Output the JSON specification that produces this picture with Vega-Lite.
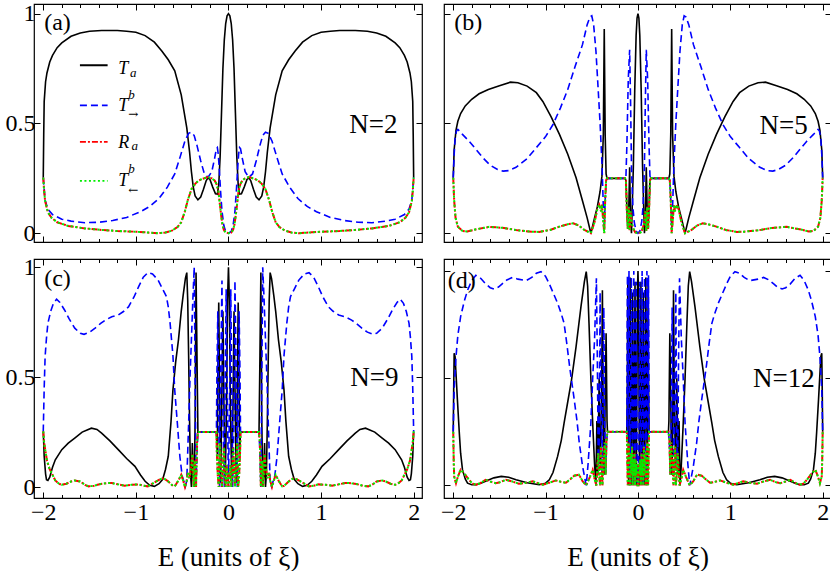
{
"$schema":"https://vega.github.io/schema/vega-lite/v6.json",
"background":"white",
"padding":{"left":4,"top":1,"right":0,"bottom":0},
"config":{"view":{"stroke":"black","strokeWidth":1.2},"font":"Liberation Serif, Times New Roman, DejaVu Serif, serif",
"axis":{"domain":false,"grid":false,"tickColor":"black","tickWidth":1,"labelFont":"Liberation Serif, Times New Roman, DejaVu Serif, serif","labelFontSize":24,"labelColor":"black","labelFlush":false,"labelPadding":5,"titleFont":"Liberation Serif, Times New Roman, DejaVu Serif, serif","titleFontSize":27,"titleFontWeight":"normal","titleColor":"black","titlePadding":20},
"axisX":{"labelPadding":8}},
"spacing":{"row":8,"column":15},
"align":"each",
"columns":2,
"datasets":{"curves":[
{"p":"a","s":"T","E":-2,"v":0.253},{"p":"a","s":"T","E":-1.995,"v":0.45},{"p":"a","s":"T","E":-1.99,"v":0.6},{"p":"a","s":"T","E":-1.975,"v":0.69},{"p":"a","s":"T","E":-1.96,"v":0.73},{"p":"a","s":"T","E":-1.93,"v":0.78},{"p":"a","s":"T","E":-1.9,"v":0.81},{"p":"a","s":"T","E":-1.85,"v":0.845},{"p":"a","s":"T","E":-1.8,"v":0.867},{"p":"a","s":"T","E":-1.7,"v":0.897},{"p":"a","s":"T","E":-1.6,"v":0.912},{"p":"a","s":"T","E":-1.5,"v":0.92},{"p":"a","s":"T","E":-1.37,"v":0.923},{"p":"a","s":"T","E":-1.2,"v":0.923},{"p":"a","s":"T","E":-1.1,"v":0.92},{"p":"a","s":"T","E":-1,"v":0.915},{"p":"a","s":"T","E":-0.9,"v":0.9},{"p":"a","s":"T","E":-0.8,"v":0.87},{"p":"a","s":"T","E":-0.72,"v":0.83},{"p":"a","s":"T","E":-0.65,"v":0.79},{"p":"a","s":"T","E":-0.58,"v":0.74},{"p":"a","s":"T","E":-0.51,"v":0.63},{"p":"a","s":"T","E":-0.45,"v":0.48},{"p":"a","s":"T","E":-0.42,"v":0.37},{"p":"a","s":"T","E":-0.4,"v":0.28},{"p":"a","s":"T","E":-0.38,"v":0.21},{"p":"a","s":"T","E":-0.36,"v":0.17},{"p":"a","s":"T","E":-0.33,"v":0.152},{"p":"a","s":"T","E":-0.3,"v":0.165},{"p":"a","s":"T","E":-0.27,"v":0.2},{"p":"a","s":"T","E":-0.24,"v":0.24},{"p":"a","s":"T","E":-0.22,"v":0.252},{"p":"a","s":"T","E":-0.2,"v":0.245},{"p":"a","s":"T","E":-0.17,"v":0.21},{"p":"a","s":"T","E":-0.14,"v":0.18},{"p":"a","s":"T","E":-0.12,"v":0.178},{"p":"a","s":"T","E":-0.105,"v":0.22},{"p":"a","s":"T","E":-0.09,"v":0.35},{"p":"a","s":"T","E":-0.075,"v":0.55},{"p":"a","s":"T","E":-0.06,"v":0.75},{"p":"a","s":"T","E":-0.045,"v":0.88},{"p":"a","s":"T","E":-0.03,"v":0.955},{"p":"a","s":"T","E":-0.015,"v":0.99},{"p":"a","s":"T","E":0,"v":1},
{"p":"a","s":"T","E":0.015,"v":0.99},{"p":"a","s":"T","E":0.03,"v":0.955},{"p":"a","s":"T","E":0.045,"v":0.88},{"p":"a","s":"T","E":0.06,"v":0.75},{"p":"a","s":"T","E":0.075,"v":0.55},{"p":"a","s":"T","E":0.09,"v":0.35},{"p":"a","s":"T","E":0.105,"v":0.22},{"p":"a","s":"T","E":0.12,"v":0.178},{"p":"a","s":"T","E":0.14,"v":0.18},{"p":"a","s":"T","E":0.17,"v":0.21},{"p":"a","s":"T","E":0.2,"v":0.245},{"p":"a","s":"T","E":0.22,"v":0.252},{"p":"a","s":"T","E":0.24,"v":0.24},{"p":"a","s":"T","E":0.27,"v":0.2},{"p":"a","s":"T","E":0.3,"v":0.165},{"p":"a","s":"T","E":0.33,"v":0.152},{"p":"a","s":"T","E":0.36,"v":0.17},{"p":"a","s":"T","E":0.38,"v":0.21},{"p":"a","s":"T","E":0.4,"v":0.28},{"p":"a","s":"T","E":0.42,"v":0.37},{"p":"a","s":"T","E":0.45,"v":0.48},{"p":"a","s":"T","E":0.51,"v":0.63},{"p":"a","s":"T","E":0.58,"v":0.74},{"p":"a","s":"T","E":0.65,"v":0.79},{"p":"a","s":"T","E":0.72,"v":0.83},{"p":"a","s":"T","E":0.8,"v":0.87},{"p":"a","s":"T","E":0.9,"v":0.9},{"p":"a","s":"T","E":1,"v":0.915},{"p":"a","s":"T","E":1.1,"v":0.92},{"p":"a","s":"T","E":1.2,"v":0.923},{"p":"a","s":"T","E":1.37,"v":0.923},{"p":"a","s":"T","E":1.5,"v":0.92},{"p":"a","s":"T","E":1.6,"v":0.912},{"p":"a","s":"T","E":1.7,"v":0.897},{"p":"a","s":"T","E":1.8,"v":0.867},{"p":"a","s":"T","E":1.85,"v":0.845},{"p":"a","s":"T","E":1.9,"v":0.81},{"p":"a","s":"T","E":1.93,"v":0.78},{"p":"a","s":"T","E":1.96,"v":0.73},{"p":"a","s":"T","E":1.975,"v":0.69},{"p":"a","s":"T","E":1.99,"v":0.6},{"p":"a","s":"T","E":1.995,"v":0.45},{"p":"a","s":"T","E":2,"v":0.253},
{"p":"a","s":"B","E":-2,"v":0.253},{"p":"a","s":"B","E":-1.99,"v":0.2},{"p":"a","s":"B","E":-1.98,"v":0.15},{"p":"a","s":"B","E":-1.95,"v":0.11},{"p":"a","s":"B","E":-1.9,"v":0.085},{"p":"a","s":"B","E":-1.8,"v":0.064},{"p":"a","s":"B","E":-1.7,"v":0.055},{"p":"a","s":"B","E":-1.55,"v":0.048},{"p":"a","s":"B","E":-1.4,"v":0.05},{"p":"a","s":"B","E":-1.25,"v":0.058},{"p":"a","s":"B","E":-1.1,"v":0.072},{"p":"a","s":"B","E":-0.95,"v":0.098},{"p":"a","s":"B","E":-0.85,"v":0.122},{"p":"a","s":"B","E":-0.75,"v":0.158},{"p":"a","s":"B","E":-0.66,"v":0.21},{"p":"a","s":"B","E":-0.58,"v":0.27},{"p":"a","s":"B","E":-0.52,"v":0.35},{"p":"a","s":"B","E":-0.47,"v":0.42},{"p":"a","s":"B","E":-0.43,"v":0.455},{"p":"a","s":"B","E":-0.4,"v":0.46},{"p":"a","s":"B","E":-0.37,"v":0.445},{"p":"a","s":"B","E":-0.34,"v":0.4},{"p":"a","s":"B","E":-0.3,"v":0.33},{"p":"a","s":"B","E":-0.26,"v":0.27},{"p":"a","s":"B","E":-0.22,"v":0.255},{"p":"a","s":"B","E":-0.18,"v":0.28},{"p":"a","s":"B","E":-0.15,"v":0.34},{"p":"a","s":"B","E":-0.13,"v":0.385},{"p":"a","s":"B","E":-0.12,"v":0.39},{"p":"a","s":"B","E":-0.11,"v":0.36},{"p":"a","s":"B","E":-0.1,"v":0.3},{"p":"a","s":"B","E":-0.085,"v":0.19},{"p":"a","s":"B","E":-0.07,"v":0.1},{"p":"a","s":"B","E":-0.05,"v":0.035},{"p":"a","s":"B","E":-0.03,"v":0.008},{"p":"a","s":"B","E":0,"v":0},
{"p":"a","s":"B","E":0.03,"v":0.008},{"p":"a","s":"B","E":0.05,"v":0.035},{"p":"a","s":"B","E":0.07,"v":0.1},{"p":"a","s":"B","E":0.085,"v":0.19},{"p":"a","s":"B","E":0.1,"v":0.3},{"p":"a","s":"B","E":0.11,"v":0.36},{"p":"a","s":"B","E":0.12,"v":0.39},{"p":"a","s":"B","E":0.13,"v":0.385},{"p":"a","s":"B","E":0.15,"v":0.34},{"p":"a","s":"B","E":0.18,"v":0.28},{"p":"a","s":"B","E":0.22,"v":0.255},{"p":"a","s":"B","E":0.26,"v":0.27},{"p":"a","s":"B","E":0.3,"v":0.33},{"p":"a","s":"B","E":0.34,"v":0.4},{"p":"a","s":"B","E":0.37,"v":0.445},{"p":"a","s":"B","E":0.4,"v":0.46},{"p":"a","s":"B","E":0.43,"v":0.455},{"p":"a","s":"B","E":0.47,"v":0.42},{"p":"a","s":"B","E":0.52,"v":0.35},{"p":"a","s":"B","E":0.58,"v":0.27},{"p":"a","s":"B","E":0.66,"v":0.21},{"p":"a","s":"B","E":0.75,"v":0.158},{"p":"a","s":"B","E":0.85,"v":0.122},{"p":"a","s":"B","E":0.95,"v":0.098},{"p":"a","s":"B","E":1.1,"v":0.072},{"p":"a","s":"B","E":1.25,"v":0.058},{"p":"a","s":"B","E":1.4,"v":0.05},{"p":"a","s":"B","E":1.55,"v":0.048},{"p":"a","s":"B","E":1.7,"v":0.055},{"p":"a","s":"B","E":1.8,"v":0.064},{"p":"a","s":"B","E":1.9,"v":0.085},{"p":"a","s":"B","E":1.95,"v":0.11},{"p":"a","s":"B","E":1.98,"v":0.15},{"p":"a","s":"B","E":1.99,"v":0.2},{"p":"a","s":"B","E":2,"v":0.253},
{"p":"a","s":"R","E":-2,"v":0.253},{"p":"a","s":"R","E":-1.99,"v":0.19},{"p":"a","s":"R","E":-1.98,"v":0.147},{"p":"a","s":"R","E":-1.95,"v":0.095},{"p":"a","s":"R","E":-1.91,"v":0.07},{"p":"a","s":"R","E":-1.85,"v":0.05},{"p":"a","s":"R","E":-1.73,"v":0.033},{"p":"a","s":"R","E":-1.55,"v":0.022},{"p":"a","s":"R","E":-1.37,"v":0.015},{"p":"a","s":"R","E":-1.2,"v":0.01},{"p":"a","s":"R","E":-1.01,"v":0.007},{"p":"a","s":"R","E":-0.9,"v":0.004},{"p":"a","s":"R","E":-0.76,"v":0},{"p":"a","s":"R","E":-0.68,"v":0.003},{"p":"a","s":"R","E":-0.61,"v":0.012},{"p":"a","s":"R","E":-0.55,"v":0.028},{"p":"a","s":"R","E":-0.51,"v":0.05},{"p":"a","s":"R","E":-0.47,"v":0.1},{"p":"a","s":"R","E":-0.44,"v":0.15},{"p":"a","s":"R","E":-0.4,"v":0.2},{"p":"a","s":"R","E":-0.36,"v":0.225},{"p":"a","s":"R","E":-0.32,"v":0.24},{"p":"a","s":"R","E":-0.28,"v":0.248},{"p":"a","s":"R","E":-0.22,"v":0.256},{"p":"a","s":"R","E":-0.18,"v":0.25},{"p":"a","s":"R","E":-0.15,"v":0.24},{"p":"a","s":"R","E":-0.13,"v":0.225},{"p":"a","s":"R","E":-0.11,"v":0.195},{"p":"a","s":"R","E":-0.095,"v":0.14},{"p":"a","s":"R","E":-0.08,"v":0.085},{"p":"a","s":"R","E":-0.065,"v":0.04},{"p":"a","s":"R","E":-0.05,"v":0.015},{"p":"a","s":"R","E":-0.03,"v":0.003},{"p":"a","s":"R","E":0,"v":0},
{"p":"a","s":"R","E":0.03,"v":0.003},{"p":"a","s":"R","E":0.05,"v":0.015},{"p":"a","s":"R","E":0.065,"v":0.04},{"p":"a","s":"R","E":0.08,"v":0.085},{"p":"a","s":"R","E":0.095,"v":0.14},{"p":"a","s":"R","E":0.11,"v":0.195},{"p":"a","s":"R","E":0.13,"v":0.225},{"p":"a","s":"R","E":0.15,"v":0.24},{"p":"a","s":"R","E":0.18,"v":0.25},{"p":"a","s":"R","E":0.22,"v":0.256},{"p":"a","s":"R","E":0.28,"v":0.248},{"p":"a","s":"R","E":0.32,"v":0.24},{"p":"a","s":"R","E":0.36,"v":0.225},{"p":"a","s":"R","E":0.4,"v":0.2},{"p":"a","s":"R","E":0.44,"v":0.15},{"p":"a","s":"R","E":0.47,"v":0.1},{"p":"a","s":"R","E":0.51,"v":0.05},{"p":"a","s":"R","E":0.55,"v":0.028},{"p":"a","s":"R","E":0.61,"v":0.012},{"p":"a","s":"R","E":0.68,"v":0.003},{"p":"a","s":"R","E":0.76,"v":0},{"p":"a","s":"R","E":0.9,"v":0.004},{"p":"a","s":"R","E":1.01,"v":0.007},{"p":"a","s":"R","E":1.2,"v":0.01},{"p":"a","s":"R","E":1.37,"v":0.015},{"p":"a","s":"R","E":1.55,"v":0.022},{"p":"a","s":"R","E":1.73,"v":0.033},{"p":"a","s":"R","E":1.85,"v":0.05},{"p":"a","s":"R","E":1.91,"v":0.07},{"p":"a","s":"R","E":1.95,"v":0.095},{"p":"a","s":"R","E":1.98,"v":0.147},{"p":"a","s":"R","E":1.99,"v":0.19},{"p":"a","s":"R","E":2,"v":0.253},
{"p":"b","s":"T","E":-2,"v":0.253},{"p":"b","s":"T","E":-1.99,"v":0.38},{"p":"b","s":"T","E":-1.97,"v":0.47},{"p":"b","s":"T","E":-1.95,"v":0.51},{"p":"b","s":"T","E":-1.92,"v":0.545},{"p":"b","s":"T","E":-1.87,"v":0.58},{"p":"b","s":"T","E":-1.8,"v":0.61},{"p":"b","s":"T","E":-1.72,"v":0.635},{"p":"b","s":"T","E":-1.62,"v":0.655},{"p":"b","s":"T","E":-1.5,"v":0.672},{"p":"b","s":"T","E":-1.38,"v":0.688},{"p":"b","s":"T","E":-1.3,"v":0.685},{"p":"b","s":"T","E":-1.2,"v":0.67},{"p":"b","s":"T","E":-1.1,"v":0.64},{"p":"b","s":"T","E":-1.03,"v":0.6},{"p":"b","s":"T","E":-0.94,"v":0.53},{"p":"b","s":"T","E":-0.85,"v":0.45},{"p":"b","s":"T","E":-0.76,"v":0.36},{"p":"b","s":"T","E":-0.67,"v":0.253},{"p":"b","s":"T","E":-0.6,"v":0.147},{"p":"b","s":"T","E":-0.55,"v":0.07},{"p":"b","s":"T","E":-0.51,"v":0},{"p":"b","s":"T","E":-0.47,"v":0.07},{"p":"b","s":"T","E":-0.44,"v":0.12},{"p":"b","s":"T","E":-0.41,"v":0.19},{"p":"b","s":"T","E":-0.39,"v":0.26},{"p":"b","s":"T","E":-0.375,"v":0.45},{"p":"b","s":"T","E":-0.365,"v":0.93},{"p":"b","s":"T","E":-0.355,"v":0.45},{"p":"b","s":"T","E":-0.345,"v":0.27},{"p":"b","s":"T","E":-0.335,"v":0.25},{"p":"b","s":"T","E":-0.14,"v":0.25},{"p":"b","s":"T","E":-0.13,"v":0.24},{"p":"b","s":"T","E":-0.12,"v":0.12},{"p":"b","s":"T","E":-0.11,"v":0.02},{"p":"b","s":"T","E":-0.1,"v":0.1},{"p":"b","s":"T","E":-0.09,"v":0.3},{"p":"b","s":"T","E":-0.08,"v":0.05},{"p":"b","s":"T","E":-0.07,"v":0},{"p":"b","s":"T","E":-0.05,"v":0.3},{"p":"b","s":"T","E":-0.035,"v":0.65},{"p":"b","s":"T","E":-0.02,"v":0.9},{"p":"b","s":"T","E":-0.01,"v":0.98},{"p":"b","s":"T","E":0,"v":1},
{"p":"b","s":"T","E":0.01,"v":0.98},{"p":"b","s":"T","E":0.02,"v":0.9},{"p":"b","s":"T","E":0.035,"v":0.65},{"p":"b","s":"T","E":0.05,"v":0.3},{"p":"b","s":"T","E":0.07,"v":0},{"p":"b","s":"T","E":0.08,"v":0.05},{"p":"b","s":"T","E":0.09,"v":0.3},{"p":"b","s":"T","E":0.1,"v":0.1},{"p":"b","s":"T","E":0.11,"v":0.02},{"p":"b","s":"T","E":0.12,"v":0.12},{"p":"b","s":"T","E":0.13,"v":0.24},{"p":"b","s":"T","E":0.14,"v":0.25},{"p":"b","s":"T","E":0.335,"v":0.25},{"p":"b","s":"T","E":0.345,"v":0.27},{"p":"b","s":"T","E":0.355,"v":0.45},{"p":"b","s":"T","E":0.365,"v":0.93},{"p":"b","s":"T","E":0.375,"v":0.45},{"p":"b","s":"T","E":0.39,"v":0.26},{"p":"b","s":"T","E":0.41,"v":0.19},{"p":"b","s":"T","E":0.44,"v":0.12},{"p":"b","s":"T","E":0.47,"v":0.07},{"p":"b","s":"T","E":0.51,"v":0},{"p":"b","s":"T","E":0.55,"v":0.07},{"p":"b","s":"T","E":0.6,"v":0.147},{"p":"b","s":"T","E":0.67,"v":0.253},{"p":"b","s":"T","E":0.76,"v":0.36},{"p":"b","s":"T","E":0.85,"v":0.45},{"p":"b","s":"T","E":0.94,"v":0.53},{"p":"b","s":"T","E":1.03,"v":0.6},{"p":"b","s":"T","E":1.1,"v":0.64},{"p":"b","s":"T","E":1.2,"v":0.67},{"p":"b","s":"T","E":1.3,"v":0.685},{"p":"b","s":"T","E":1.38,"v":0.688},{"p":"b","s":"T","E":1.5,"v":0.672},{"p":"b","s":"T","E":1.62,"v":0.655},{"p":"b","s":"T","E":1.72,"v":0.635},{"p":"b","s":"T","E":1.8,"v":0.61},{"p":"b","s":"T","E":1.87,"v":0.58},{"p":"b","s":"T","E":1.92,"v":0.545},{"p":"b","s":"T","E":1.95,"v":0.51},{"p":"b","s":"T","E":1.97,"v":0.47},{"p":"b","s":"T","E":1.99,"v":0.38},{"p":"b","s":"T","E":2,"v":0.253},
{"p":"b","s":"B","E":-2,"v":0.253},{"p":"b","s":"B","E":-1.99,"v":0.36},{"p":"b","s":"B","E":-1.98,"v":0.43},{"p":"b","s":"B","E":-1.965,"v":0.465},{"p":"b","s":"B","E":-1.95,"v":0.473},{"p":"b","s":"B","E":-1.9,"v":0.45},{"p":"b","s":"B","E":-1.83,"v":0.42},{"p":"b","s":"B","E":-1.75,"v":0.38},{"p":"b","s":"B","E":-1.68,"v":0.344},{"p":"b","s":"B","E":-1.6,"v":0.31},{"p":"b","s":"B","E":-1.52,"v":0.29},{"p":"b","s":"B","E":-1.46,"v":0.283},{"p":"b","s":"B","E":-1.4,"v":0.285},{"p":"b","s":"B","E":-1.32,"v":0.3},{"p":"b","s":"B","E":-1.2,"v":0.34},{"p":"b","s":"B","E":-1.1,"v":0.39},{"p":"b","s":"B","E":-1,"v":0.44},{"p":"b","s":"B","E":-0.92,"v":0.495},{"p":"b","s":"B","E":-0.84,"v":0.57},{"p":"b","s":"B","E":-0.76,"v":0.655},{"p":"b","s":"B","E":-0.68,"v":0.76},{"p":"b","s":"B","E":-0.6,"v":0.86},{"p":"b","s":"B","E":-0.55,"v":0.95},{"p":"b","s":"B","E":-0.52,"v":0.985},{"p":"b","s":"B","E":-0.5,"v":0.99},{"p":"b","s":"B","E":-0.48,"v":0.95},{"p":"b","s":"B","E":-0.455,"v":0.83},{"p":"b","s":"B","E":-0.43,"v":0.65},{"p":"b","s":"B","E":-0.41,"v":0.5},{"p":"b","s":"B","E":-0.39,"v":0.32},{"p":"b","s":"B","E":-0.375,"v":0.12},{"p":"b","s":"B","E":-0.365,"v":0.02},{"p":"b","s":"B","E":-0.355,"v":0.15},{"p":"b","s":"B","E":-0.345,"v":0.24},{"p":"b","s":"B","E":-0.335,"v":0.25},{"p":"b","s":"B","E":-0.14,"v":0.25},{"p":"b","s":"B","E":-0.13,"v":0.26},{"p":"b","s":"B","E":-0.12,"v":0.4},{"p":"b","s":"B","E":-0.105,"v":0.7},{"p":"b","s":"B","E":-0.09,"v":0.836},{"p":"b","s":"B","E":-0.08,"v":0.6},{"p":"b","s":"B","E":-0.07,"v":0.3},{"p":"b","s":"B","E":-0.055,"v":0.12},{"p":"b","s":"B","E":-0.04,"v":0.05},{"p":"b","s":"B","E":-0.02,"v":0.01},{"p":"b","s":"B","E":0,"v":0},
{"p":"b","s":"B","E":0.02,"v":0.01},{"p":"b","s":"B","E":0.04,"v":0.05},{"p":"b","s":"B","E":0.055,"v":0.12},{"p":"b","s":"B","E":0.07,"v":0.3},{"p":"b","s":"B","E":0.08,"v":0.6},{"p":"b","s":"B","E":0.09,"v":0.836},{"p":"b","s":"B","E":0.105,"v":0.7},{"p":"b","s":"B","E":0.12,"v":0.4},{"p":"b","s":"B","E":0.13,"v":0.26},{"p":"b","s":"B","E":0.14,"v":0.25},{"p":"b","s":"B","E":0.335,"v":0.25},{"p":"b","s":"B","E":0.345,"v":0.24},{"p":"b","s":"B","E":0.355,"v":0.15},{"p":"b","s":"B","E":0.365,"v":0.02},{"p":"b","s":"B","E":0.375,"v":0.12},{"p":"b","s":"B","E":0.39,"v":0.32},{"p":"b","s":"B","E":0.41,"v":0.5},{"p":"b","s":"B","E":0.43,"v":0.65},{"p":"b","s":"B","E":0.455,"v":0.83},{"p":"b","s":"B","E":0.48,"v":0.95},{"p":"b","s":"B","E":0.5,"v":0.99},{"p":"b","s":"B","E":0.52,"v":0.985},{"p":"b","s":"B","E":0.55,"v":0.95},{"p":"b","s":"B","E":0.6,"v":0.86},{"p":"b","s":"B","E":0.68,"v":0.76},{"p":"b","s":"B","E":0.76,"v":0.655},{"p":"b","s":"B","E":0.84,"v":0.57},{"p":"b","s":"B","E":0.92,"v":0.495},{"p":"b","s":"B","E":1,"v":0.44},{"p":"b","s":"B","E":1.1,"v":0.39},{"p":"b","s":"B","E":1.2,"v":0.34},{"p":"b","s":"B","E":1.32,"v":0.3},{"p":"b","s":"B","E":1.4,"v":0.285},{"p":"b","s":"B","E":1.46,"v":0.283},{"p":"b","s":"B","E":1.52,"v":0.29},{"p":"b","s":"B","E":1.6,"v":0.31},{"p":"b","s":"B","E":1.68,"v":0.344},{"p":"b","s":"B","E":1.75,"v":0.38},{"p":"b","s":"B","E":1.83,"v":0.42},{"p":"b","s":"B","E":1.9,"v":0.45},{"p":"b","s":"B","E":1.95,"v":0.473},{"p":"b","s":"B","E":1.965,"v":0.465},{"p":"b","s":"B","E":1.98,"v":0.43},{"p":"b","s":"B","E":1.99,"v":0.36},{"p":"b","s":"B","E":2,"v":0.253},
{"p":"b","s":"R","E":-2,"v":0.253},{"p":"b","s":"R","E":-1.99,"v":0.15},{"p":"b","s":"R","E":-1.975,"v":0.07},{"p":"b","s":"R","E":-1.95,"v":0.03},{"p":"b","s":"R","E":-1.9,"v":0.01},{"p":"b","s":"R","E":-1.85,"v":0.008},{"p":"b","s":"R","E":-1.75,"v":0.018},{"p":"b","s":"R","E":-1.61,"v":0.029},{"p":"b","s":"R","E":-1.45,"v":0.024},{"p":"b","s":"R","E":-1.3,"v":0.013},{"p":"b","s":"R","E":-1.15,"v":0.007},{"p":"b","s":"R","E":-1.07,"v":0.006},{"p":"b","s":"R","E":-0.95,"v":0.015},{"p":"b","s":"R","E":-0.85,"v":0.03},{"p":"b","s":"R","E":-0.75,"v":0.042},{"p":"b","s":"R","E":-0.7,"v":0.045},{"p":"b","s":"R","E":-0.64,"v":0.035},{"p":"b","s":"R","E":-0.58,"v":0.015},{"p":"b","s":"R","E":-0.51,"v":0},{"p":"b","s":"R","E":-0.47,"v":0.05},{"p":"b","s":"R","E":-0.44,"v":0.11},{"p":"b","s":"R","E":-0.42,"v":0.13},{"p":"b","s":"R","E":-0.4,"v":0.1},{"p":"b","s":"R","E":-0.39,"v":0.13},{"p":"b","s":"R","E":-0.375,"v":0.05},{"p":"b","s":"R","E":-0.365,"v":0},{"p":"b","s":"R","E":-0.355,"v":0.15},{"p":"b","s":"R","E":-0.345,"v":0.24},{"p":"b","s":"R","E":-0.335,"v":0.25},{"p":"b","s":"R","E":-0.14,"v":0.25},{"p":"b","s":"R","E":-0.13,"v":0.24},{"p":"b","s":"R","E":-0.12,"v":0.1},{"p":"b","s":"R","E":-0.11,"v":0.02},{"p":"b","s":"R","E":-0.1,"v":0.12},{"p":"b","s":"R","E":-0.09,"v":0.01},{"p":"b","s":"R","E":-0.08,"v":0.1},{"p":"b","s":"R","E":-0.07,"v":0.05},{"p":"b","s":"R","E":-0.05,"v":0.02},{"p":"b","s":"R","E":-0.03,"v":0.004},{"p":"b","s":"R","E":0,"v":0},
{"p":"b","s":"R","E":0.03,"v":0.004},{"p":"b","s":"R","E":0.05,"v":0.02},{"p":"b","s":"R","E":0.07,"v":0.05},{"p":"b","s":"R","E":0.08,"v":0.1},{"p":"b","s":"R","E":0.09,"v":0.01},{"p":"b","s":"R","E":0.1,"v":0.12},{"p":"b","s":"R","E":0.11,"v":0.02},{"p":"b","s":"R","E":0.12,"v":0.1},{"p":"b","s":"R","E":0.13,"v":0.24},{"p":"b","s":"R","E":0.14,"v":0.25},{"p":"b","s":"R","E":0.335,"v":0.25},{"p":"b","s":"R","E":0.345,"v":0.24},{"p":"b","s":"R","E":0.355,"v":0.15},{"p":"b","s":"R","E":0.365,"v":0},{"p":"b","s":"R","E":0.375,"v":0.05},{"p":"b","s":"R","E":0.39,"v":0.13},{"p":"b","s":"R","E":0.4,"v":0.1},{"p":"b","s":"R","E":0.42,"v":0.13},{"p":"b","s":"R","E":0.44,"v":0.11},{"p":"b","s":"R","E":0.47,"v":0.05},{"p":"b","s":"R","E":0.51,"v":0},{"p":"b","s":"R","E":0.58,"v":0.015},{"p":"b","s":"R","E":0.64,"v":0.035},{"p":"b","s":"R","E":0.7,"v":0.045},{"p":"b","s":"R","E":0.75,"v":0.042},{"p":"b","s":"R","E":0.85,"v":0.03},{"p":"b","s":"R","E":0.95,"v":0.015},{"p":"b","s":"R","E":1.07,"v":0.006},{"p":"b","s":"R","E":1.15,"v":0.007},{"p":"b","s":"R","E":1.3,"v":0.013},{"p":"b","s":"R","E":1.45,"v":0.024},{"p":"b","s":"R","E":1.61,"v":0.029},{"p":"b","s":"R","E":1.75,"v":0.018},{"p":"b","s":"R","E":1.85,"v":0.008},{"p":"b","s":"R","E":1.9,"v":0.01},{"p":"b","s":"R","E":1.95,"v":0.03},{"p":"b","s":"R","E":1.975,"v":0.07},{"p":"b","s":"R","E":1.99,"v":0.15},{"p":"b","s":"R","E":2,"v":0.253},
{"p":"c","s":"T","E":-2,"v":0.253},{"p":"c","s":"T","E":-1.995,"v":0.2},{"p":"c","s":"T","E":-1.99,"v":0.14},{"p":"c","s":"T","E":-1.975,"v":0.06},{"p":"c","s":"T","E":-1.965,"v":0.033},{"p":"c","s":"T","E":-1.95,"v":0.03},{"p":"c","s":"T","E":-1.93,"v":0.045},{"p":"c","s":"T","E":-1.9,"v":0.09},{"p":"c","s":"T","E":-1.87,"v":0.124},{"p":"c","s":"T","E":-1.8,"v":0.17},{"p":"c","s":"T","E":-1.73,"v":0.2},{"p":"c","s":"T","E":-1.66,"v":0.223},{"p":"c","s":"T","E":-1.58,"v":0.25},{"p":"c","s":"T","E":-1.48,"v":0.268},{"p":"c","s":"T","E":-1.42,"v":0.262},{"p":"c","s":"T","E":-1.37,"v":0.245},{"p":"c","s":"T","E":-1.28,"v":0.21},{"p":"c","s":"T","E":-1.19,"v":0.17},{"p":"c","s":"T","E":-1.1,"v":0.13},{"p":"c","s":"T","E":-1.01,"v":0.094},{"p":"c","s":"T","E":-0.95,"v":0.055},{"p":"c","s":"T","E":-0.9,"v":0.026},{"p":"c","s":"T","E":-0.85,"v":0.008},{"p":"c","s":"T","E":-0.8,"v":0.003},{"p":"c","s":"T","E":-0.75,"v":0.015},{"p":"c","s":"T","E":-0.71,"v":0.035},{"p":"c","s":"T","E":-0.68,"v":0.08},{"p":"c","s":"T","E":-0.65,"v":0.14},{"p":"c","s":"T","E":-0.62,"v":0.3},{"p":"c","s":"T","E":-0.6,"v":0.44},{"p":"c","s":"T","E":-0.57,"v":0.57},{"p":"c","s":"T","E":-0.54,"v":0.67},{"p":"c","s":"T","E":-0.51,"v":0.8},{"p":"c","s":"T","E":-0.49,"v":0.87},{"p":"c","s":"T","E":-0.465,"v":0.95},{"p":"c","s":"T","E":-0.45,"v":0.976},{"p":"c","s":"T","E":-0.44,"v":0.85},{"p":"c","s":"T","E":-0.43,"v":0.594},{"p":"c","s":"T","E":-0.42,"v":0.3},{"p":"c","s":"T","E":-0.41,"v":0.06},{"p":"c","s":"T","E":-0.4,"v":0},{"p":"c","s":"T","E":-0.39,"v":0.2},{"p":"c","s":"T","E":-0.38,"v":0.05},{"p":"c","s":"T","E":-0.37,"v":0},{"p":"c","s":"T","E":-0.36,"v":0.3},{"p":"c","s":"T","E":-0.35,"v":0.976},{"p":"c","s":"T","E":-0.34,"v":0.6},{"p":"c","s":"T","E":-0.33,"v":0.25},{"p":"c","s":"T","E":-0.13,"v":0.25},{"p":"c","s":"T","E":-0.12,"v":0.15},{"p":"c","s":"T","E":-0.115,"v":0.5},{"p":"c","s":"T","E":-0.105,"v":0.84},{"p":"c","s":"T","E":-0.095,"v":0.4},{"p":"c","s":"T","E":-0.085,"v":0.02},{"p":"c","s":"T","E":-0.075,"v":0.3},{"p":"c","s":"T","E":-0.06,"v":0.8},{"p":"c","s":"T","E":-0.05,"v":0.4},{"p":"c","s":"T","E":-0.035,"v":0.02},{"p":"c","s":"T","E":-0.02,"v":0.4},{"p":"c","s":"T","E":-0.01,"v":0.85},{"p":"c","s":"T","E":0,"v":1},
{"p":"c","s":"T","E":0.01,"v":0.85},{"p":"c","s":"T","E":0.02,"v":0.4},{"p":"c","s":"T","E":0.035,"v":0.02},{"p":"c","s":"T","E":0.05,"v":0.4},{"p":"c","s":"T","E":0.06,"v":0.8},{"p":"c","s":"T","E":0.075,"v":0.3},{"p":"c","s":"T","E":0.085,"v":0.02},{"p":"c","s":"T","E":0.095,"v":0.4},{"p":"c","s":"T","E":0.105,"v":0.84},{"p":"c","s":"T","E":0.115,"v":0.5},{"p":"c","s":"T","E":0.12,"v":0.15},{"p":"c","s":"T","E":0.13,"v":0.25},{"p":"c","s":"T","E":0.33,"v":0.25},{"p":"c","s":"T","E":0.34,"v":0.6},{"p":"c","s":"T","E":0.35,"v":0.976},{"p":"c","s":"T","E":0.36,"v":0.3},{"p":"c","s":"T","E":0.37,"v":0},{"p":"c","s":"T","E":0.38,"v":0.05},{"p":"c","s":"T","E":0.39,"v":0.2},{"p":"c","s":"T","E":0.4,"v":0},{"p":"c","s":"T","E":0.41,"v":0.06},{"p":"c","s":"T","E":0.42,"v":0.3},{"p":"c","s":"T","E":0.43,"v":0.594},{"p":"c","s":"T","E":0.44,"v":0.85},{"p":"c","s":"T","E":0.45,"v":0.976},{"p":"c","s":"T","E":0.465,"v":0.95},{"p":"c","s":"T","E":0.49,"v":0.87},{"p":"c","s":"T","E":0.51,"v":0.8},{"p":"c","s":"T","E":0.54,"v":0.67},{"p":"c","s":"T","E":0.57,"v":0.57},{"p":"c","s":"T","E":0.6,"v":0.44},{"p":"c","s":"T","E":0.62,"v":0.3},{"p":"c","s":"T","E":0.65,"v":0.14},{"p":"c","s":"T","E":0.68,"v":0.08},{"p":"c","s":"T","E":0.71,"v":0.035},{"p":"c","s":"T","E":0.75,"v":0.015},{"p":"c","s":"T","E":0.8,"v":0.003},{"p":"c","s":"T","E":0.85,"v":0.008},{"p":"c","s":"T","E":0.9,"v":0.026},{"p":"c","s":"T","E":0.95,"v":0.055},{"p":"c","s":"T","E":1.01,"v":0.094},{"p":"c","s":"T","E":1.1,"v":0.13},{"p":"c","s":"T","E":1.19,"v":0.17},{"p":"c","s":"T","E":1.28,"v":0.21},{"p":"c","s":"T","E":1.37,"v":0.245},{"p":"c","s":"T","E":1.42,"v":0.262},{"p":"c","s":"T","E":1.48,"v":0.268},{"p":"c","s":"T","E":1.58,"v":0.25},{"p":"c","s":"T","E":1.66,"v":0.223},{"p":"c","s":"T","E":1.73,"v":0.2},{"p":"c","s":"T","E":1.8,"v":0.17},{"p":"c","s":"T","E":1.87,"v":0.124},{"p":"c","s":"T","E":1.9,"v":0.09},{"p":"c","s":"T","E":1.93,"v":0.045},{"p":"c","s":"T","E":1.95,"v":0.03},{"p":"c","s":"T","E":1.965,"v":0.033},{"p":"c","s":"T","E":1.975,"v":0.06},{"p":"c","s":"T","E":1.99,"v":0.14},{"p":"c","s":"T","E":1.995,"v":0.2},{"p":"c","s":"T","E":2,"v":0.253},
{"p":"c","s":"B","E":-2,"v":0.253},{"p":"c","s":"B","E":-1.99,"v":0.45},{"p":"c","s":"B","E":-1.98,"v":0.594},{"p":"c","s":"B","E":-1.965,"v":0.68},{"p":"c","s":"B","E":-1.95,"v":0.745},{"p":"c","s":"B","E":-1.92,"v":0.8},{"p":"c","s":"B","E":-1.89,"v":0.836},{"p":"c","s":"B","E":-1.856,"v":0.855},{"p":"c","s":"B","E":-1.82,"v":0.84},{"p":"c","s":"B","E":-1.77,"v":0.806},{"p":"c","s":"B","E":-1.72,"v":0.765},{"p":"c","s":"B","E":-1.66,"v":0.723},{"p":"c","s":"B","E":-1.6,"v":0.7},{"p":"c","s":"B","E":-1.56,"v":0.695},{"p":"c","s":"B","E":-1.5,"v":0.705},{"p":"c","s":"B","E":-1.44,"v":0.723},{"p":"c","s":"B","E":-1.38,"v":0.745},{"p":"c","s":"B","E":-1.33,"v":0.76},{"p":"c","s":"B","E":-1.26,"v":0.775},{"p":"c","s":"B","E":-1.19,"v":0.783},{"p":"c","s":"B","E":-1.13,"v":0.8},{"p":"c","s":"B","E":-1.08,"v":0.82},{"p":"c","s":"B","E":-1.02,"v":0.865},{"p":"c","s":"B","E":-0.97,"v":0.912},{"p":"c","s":"B","E":-0.92,"v":0.955},{"p":"c","s":"B","E":-0.87,"v":0.976},{"p":"c","s":"B","E":-0.82,"v":0.97},{"p":"c","s":"B","E":-0.76,"v":0.942},{"p":"c","s":"B","E":-0.71,"v":0.9},{"p":"c","s":"B","E":-0.67,"v":0.867},{"p":"c","s":"B","E":-0.65,"v":0.82},{"p":"c","s":"B","E":-0.63,"v":0.745},{"p":"c","s":"B","E":-0.6,"v":0.6},{"p":"c","s":"B","E":-0.58,"v":0.44},{"p":"c","s":"B","E":-0.55,"v":0.28},{"p":"c","s":"B","E":-0.525,"v":0.14},{"p":"c","s":"B","E":-0.5,"v":0.05},{"p":"c","s":"B","E":-0.465,"v":0.003},{"p":"c","s":"B","E":-0.45,"v":0.03},{"p":"c","s":"B","E":-0.43,"v":0.29},{"p":"c","s":"B","E":-0.415,"v":0.5},{"p":"c","s":"B","E":-0.4,"v":0.67},{"p":"c","s":"B","E":-0.385,"v":0.85},{"p":"c","s":"B","E":-0.37,"v":1},{"p":"c","s":"B","E":-0.36,"v":0.5},{"p":"c","s":"B","E":-0.35,"v":0},{"p":"c","s":"B","E":-0.34,"v":0.15},{"p":"c","s":"B","E":-0.33,"v":0.25},{"p":"c","s":"B","E":-0.13,"v":0.25},{"p":"c","s":"B","E":-0.125,"v":0.5},{"p":"c","s":"B","E":-0.115,"v":0.8},{"p":"c","s":"B","E":-0.105,"v":0.3},{"p":"c","s":"B","E":-0.095,"v":0},{"p":"c","s":"B","E":-0.085,"v":0.5},{"p":"c","s":"B","E":-0.07,"v":0.94},{"p":"c","s":"B","E":-0.06,"v":0.3},{"p":"c","s":"B","E":-0.045,"v":0},{"p":"c","s":"B","E":-0.035,"v":0.5},{"p":"c","s":"B","E":-0.025,"v":0.9},{"p":"c","s":"B","E":-0.015,"v":0.5},{"p":"c","s":"B","E":0,"v":0},
{"p":"c","s":"B","E":0.015,"v":0.5},{"p":"c","s":"B","E":0.025,"v":0.9},{"p":"c","s":"B","E":0.035,"v":0.5},{"p":"c","s":"B","E":0.045,"v":0},{"p":"c","s":"B","E":0.06,"v":0.3},{"p":"c","s":"B","E":0.07,"v":0.94},{"p":"c","s":"B","E":0.085,"v":0.5},{"p":"c","s":"B","E":0.095,"v":0},{"p":"c","s":"B","E":0.105,"v":0.3},{"p":"c","s":"B","E":0.115,"v":0.8},{"p":"c","s":"B","E":0.125,"v":0.5},{"p":"c","s":"B","E":0.13,"v":0.25},{"p":"c","s":"B","E":0.33,"v":0.25},{"p":"c","s":"B","E":0.34,"v":0.15},{"p":"c","s":"B","E":0.35,"v":0},{"p":"c","s":"B","E":0.36,"v":0.5},{"p":"c","s":"B","E":0.37,"v":1},{"p":"c","s":"B","E":0.385,"v":0.85},{"p":"c","s":"B","E":0.4,"v":0.67},{"p":"c","s":"B","E":0.415,"v":0.5},{"p":"c","s":"B","E":0.43,"v":0.29},{"p":"c","s":"B","E":0.45,"v":0.03},{"p":"c","s":"B","E":0.465,"v":0.003},{"p":"c","s":"B","E":0.5,"v":0.05},{"p":"c","s":"B","E":0.525,"v":0.14},{"p":"c","s":"B","E":0.55,"v":0.28},{"p":"c","s":"B","E":0.58,"v":0.44},{"p":"c","s":"B","E":0.6,"v":0.6},{"p":"c","s":"B","E":0.63,"v":0.745},{"p":"c","s":"B","E":0.65,"v":0.82},{"p":"c","s":"B","E":0.67,"v":0.867},{"p":"c","s":"B","E":0.71,"v":0.9},{"p":"c","s":"B","E":0.76,"v":0.942},{"p":"c","s":"B","E":0.82,"v":0.97},{"p":"c","s":"B","E":0.87,"v":0.976},{"p":"c","s":"B","E":0.92,"v":0.955},{"p":"c","s":"B","E":0.97,"v":0.912},{"p":"c","s":"B","E":1.02,"v":0.865},{"p":"c","s":"B","E":1.08,"v":0.82},{"p":"c","s":"B","E":1.13,"v":0.8},{"p":"c","s":"B","E":1.19,"v":0.783},{"p":"c","s":"B","E":1.26,"v":0.775},{"p":"c","s":"B","E":1.33,"v":0.76},{"p":"c","s":"B","E":1.38,"v":0.745},{"p":"c","s":"B","E":1.44,"v":0.723},{"p":"c","s":"B","E":1.5,"v":0.705},{"p":"c","s":"B","E":1.56,"v":0.695},{"p":"c","s":"B","E":1.6,"v":0.7},{"p":"c","s":"B","E":1.66,"v":0.723},{"p":"c","s":"B","E":1.72,"v":0.765},{"p":"c","s":"B","E":1.77,"v":0.806},{"p":"c","s":"B","E":1.82,"v":0.84},{"p":"c","s":"B","E":1.856,"v":0.855},{"p":"c","s":"B","E":1.89,"v":0.836},{"p":"c","s":"B","E":1.92,"v":0.8},{"p":"c","s":"B","E":1.95,"v":0.745},{"p":"c","s":"B","E":1.965,"v":0.68},{"p":"c","s":"B","E":1.98,"v":0.594},{"p":"c","s":"B","E":1.99,"v":0.45},{"p":"c","s":"B","E":2,"v":0.253},
{"p":"c","s":"R","E":-2,"v":0.253},{"p":"c","s":"R","E":-1.99,"v":0.2},{"p":"c","s":"R","E":-1.975,"v":0.16},{"p":"c","s":"R","E":-1.96,"v":0.12},{"p":"c","s":"R","E":-1.93,"v":0.08},{"p":"c","s":"R","E":-1.91,"v":0.064},{"p":"c","s":"R","E":-1.87,"v":0.03},{"p":"c","s":"R","E":-1.83,"v":0.015},{"p":"c","s":"R","E":-1.8,"v":0.01},{"p":"c","s":"R","E":-1.75,"v":0.015},{"p":"c","s":"R","E":-1.7,"v":0.025},{"p":"c","s":"R","E":-1.66,"v":0.03},{"p":"c","s":"R","E":-1.6,"v":0.025},{"p":"c","s":"R","E":-1.55,"v":0.01},{"p":"c","s":"R","E":-1.51,"v":0.003},{"p":"c","s":"R","E":-1.45,"v":0.006},{"p":"c","s":"R","E":-1.38,"v":0.014},{"p":"c","s":"R","E":-1.3,"v":0.018},{"p":"c","s":"R","E":-1.26,"v":0.018},{"p":"c","s":"R","E":-1.19,"v":0.012},{"p":"c","s":"R","E":-1.12,"v":0.006},{"p":"c","s":"R","E":-1.05,"v":0.01},{"p":"c","s":"R","E":-0.97,"v":0.012},{"p":"c","s":"R","E":-0.92,"v":0.006},{"p":"c","s":"R","E":-0.87,"v":0.003},{"p":"c","s":"R","E":-0.8,"v":0.02},{"p":"c","s":"R","E":-0.74,"v":0.035},{"p":"c","s":"R","E":-0.7,"v":0.04},{"p":"c","s":"R","E":-0.65,"v":0.025},{"p":"c","s":"R","E":-0.6,"v":0.005},{"p":"c","s":"R","E":-0.58,"v":0.003},{"p":"c","s":"R","E":-0.54,"v":0.03},{"p":"c","s":"R","E":-0.51,"v":0.056},{"p":"c","s":"R","E":-0.49,"v":0.03},{"p":"c","s":"R","E":-0.47,"v":0},{"p":"c","s":"R","E":-0.45,"v":0.03},{"p":"c","s":"R","E":-0.44,"v":0.064},{"p":"c","s":"R","E":-0.42,"v":0.04},{"p":"c","s":"R","E":-0.4,"v":0.1},{"p":"c","s":"R","E":-0.39,"v":0.15},{"p":"c","s":"R","E":-0.375,"v":0},{"p":"c","s":"R","E":-0.365,"v":0.12},{"p":"c","s":"R","E":-0.35,"v":0},{"p":"c","s":"R","E":-0.34,"v":0.2},{"p":"c","s":"R","E":-0.33,"v":0.25},{"p":"c","s":"R","E":-0.13,"v":0.25},{"p":"c","s":"R","E":-0.125,"v":0.15},{"p":"c","s":"R","E":-0.115,"v":0.05},{"p":"c","s":"R","E":-0.105,"v":0},{"p":"c","s":"R","E":-0.095,"v":0.2},{"p":"c","s":"R","E":-0.085,"v":0.1},{"p":"c","s":"R","E":-0.07,"v":0},{"p":"c","s":"R","E":-0.06,"v":0.1},{"p":"c","s":"R","E":-0.05,"v":0.18},{"p":"c","s":"R","E":-0.04,"v":0.05},{"p":"c","s":"R","E":-0.03,"v":0},{"p":"c","s":"R","E":-0.02,"v":0.1},{"p":"c","s":"R","E":-0.01,"v":0.05},{"p":"c","s":"R","E":0,"v":0},
{"p":"c","s":"R","E":0.01,"v":0.05},{"p":"c","s":"R","E":0.02,"v":0.1},{"p":"c","s":"R","E":0.03,"v":0},{"p":"c","s":"R","E":0.04,"v":0.05},{"p":"c","s":"R","E":0.05,"v":0.18},{"p":"c","s":"R","E":0.06,"v":0.1},{"p":"c","s":"R","E":0.07,"v":0},{"p":"c","s":"R","E":0.085,"v":0.1},{"p":"c","s":"R","E":0.095,"v":0.2},{"p":"c","s":"R","E":0.105,"v":0},{"p":"c","s":"R","E":0.115,"v":0.05},{"p":"c","s":"R","E":0.125,"v":0.15},{"p":"c","s":"R","E":0.13,"v":0.25},{"p":"c","s":"R","E":0.33,"v":0.25},{"p":"c","s":"R","E":0.34,"v":0.2},{"p":"c","s":"R","E":0.35,"v":0},{"p":"c","s":"R","E":0.365,"v":0.12},{"p":"c","s":"R","E":0.375,"v":0},{"p":"c","s":"R","E":0.39,"v":0.15},{"p":"c","s":"R","E":0.4,"v":0.1},{"p":"c","s":"R","E":0.42,"v":0.04},{"p":"c","s":"R","E":0.44,"v":0.064},{"p":"c","s":"R","E":0.45,"v":0.03},{"p":"c","s":"R","E":0.47,"v":0},{"p":"c","s":"R","E":0.49,"v":0.03},{"p":"c","s":"R","E":0.51,"v":0.056},{"p":"c","s":"R","E":0.54,"v":0.03},{"p":"c","s":"R","E":0.58,"v":0.003},{"p":"c","s":"R","E":0.6,"v":0.005},{"p":"c","s":"R","E":0.65,"v":0.025},{"p":"c","s":"R","E":0.7,"v":0.04},{"p":"c","s":"R","E":0.74,"v":0.035},{"p":"c","s":"R","E":0.8,"v":0.02},{"p":"c","s":"R","E":0.87,"v":0.003},{"p":"c","s":"R","E":0.92,"v":0.006},{"p":"c","s":"R","E":0.97,"v":0.012},{"p":"c","s":"R","E":1.05,"v":0.01},{"p":"c","s":"R","E":1.12,"v":0.006},{"p":"c","s":"R","E":1.19,"v":0.012},{"p":"c","s":"R","E":1.26,"v":0.018},{"p":"c","s":"R","E":1.3,"v":0.018},{"p":"c","s":"R","E":1.38,"v":0.014},{"p":"c","s":"R","E":1.45,"v":0.006},{"p":"c","s":"R","E":1.51,"v":0.003},{"p":"c","s":"R","E":1.55,"v":0.01},{"p":"c","s":"R","E":1.6,"v":0.025},{"p":"c","s":"R","E":1.66,"v":0.03},{"p":"c","s":"R","E":1.7,"v":0.025},{"p":"c","s":"R","E":1.75,"v":0.015},{"p":"c","s":"R","E":1.8,"v":0.01},{"p":"c","s":"R","E":1.83,"v":0.015},{"p":"c","s":"R","E":1.87,"v":0.03},{"p":"c","s":"R","E":1.91,"v":0.064},{"p":"c","s":"R","E":1.93,"v":0.08},{"p":"c","s":"R","E":1.96,"v":0.12},{"p":"c","s":"R","E":1.975,"v":0.16},{"p":"c","s":"R","E":1.99,"v":0.2},{"p":"c","s":"R","E":2,"v":0.253},
{"p":"d","s":"T","E":-2,"v":0.25},{"p":"d","s":"T","E":-1.995,"v":0.45},{"p":"d","s":"T","E":-1.99,"v":0.616},{"p":"d","s":"T","E":-1.98,"v":0.6},{"p":"d","s":"T","E":-1.97,"v":0.52},{"p":"d","s":"T","E":-1.955,"v":0.4},{"p":"d","s":"T","E":-1.935,"v":0.25},{"p":"d","s":"T","E":-1.92,"v":0.15},{"p":"d","s":"T","E":-1.9,"v":0.073},{"p":"d","s":"T","E":-1.87,"v":0.03},{"p":"d","s":"T","E":-1.845,"v":0.01},{"p":"d","s":"T","E":-1.8,"v":0.003},{"p":"d","s":"T","E":-1.755,"v":0.003},{"p":"d","s":"T","E":-1.7,"v":0.01},{"p":"d","s":"T","E":-1.65,"v":0.019},{"p":"d","s":"T","E":-1.56,"v":0.035},{"p":"d","s":"T","E":-1.48,"v":0.042},{"p":"d","s":"T","E":-1.4,"v":0.038},{"p":"d","s":"T","E":-1.32,"v":0.026},{"p":"d","s":"T","E":-1.2,"v":0.012},{"p":"d","s":"T","E":-1.07,"v":0.003},{"p":"d","s":"T","E":-1,"v":0.01},{"p":"d","s":"T","E":-0.96,"v":0.026},{"p":"d","s":"T","E":-0.92,"v":0.06},{"p":"d","s":"T","E":-0.87,"v":0.135},{"p":"d","s":"T","E":-0.83,"v":0.21},{"p":"d","s":"T","E":-0.8,"v":0.29},{"p":"d","s":"T","E":-0.76,"v":0.39},{"p":"d","s":"T","E":-0.72,"v":0.49},{"p":"d","s":"T","E":-0.67,"v":0.647},{"p":"d","s":"T","E":-0.617,"v":0.834},{"p":"d","s":"T","E":-0.58,"v":0.95},{"p":"d","s":"T","E":-0.56,"v":0.997},{"p":"d","s":"T","E":-0.545,"v":0.93},{"p":"d","s":"T","E":-0.53,"v":0.756},{"p":"d","s":"T","E":-0.51,"v":0.5},{"p":"d","s":"T","E":-0.49,"v":0.29},{"p":"d","s":"T","E":-0.47,"v":0.1},{"p":"d","s":"T","E":-0.455,"v":0},{"p":"d","s":"T","E":-0.445,"v":0.3},{"p":"d","s":"T","E":-0.435,"v":0.05},{"p":"d","s":"T","E":-0.42,"v":0.5},{"p":"d","s":"T","E":-0.41,"v":0.1},{"p":"d","s":"T","E":-0.395,"v":0.3},{"p":"d","s":"T","E":-0.385,"v":0.91},{"p":"d","s":"T","E":-0.375,"v":0.2},{"p":"d","s":"T","E":-0.365,"v":0.05},{"p":"d","s":"T","E":-0.355,"v":0.4},{"p":"d","s":"T","E":-0.345,"v":0.71},{"p":"d","s":"T","E":-0.335,"v":0.3},{"p":"d","s":"T","E":-0.33,"v":0.25},{"p":"d","s":"T","E":-0.12,"v":0.25},{"p":"d","s":"T","E":-0.115,"v":0.5},{"p":"d","s":"T","E":-0.11,"v":0.95},{"p":"d","s":"T","E":-0.105,"v":0.3},{"p":"d","s":"T","E":-0.1,"v":0},{"p":"d","s":"T","E":-0.095,"v":0.4},{"p":"d","s":"T","E":-0.085,"v":0.97},{"p":"d","s":"T","E":-0.078,"v":0.3},{"p":"d","s":"T","E":-0.07,"v":0},{"p":"d","s":"T","E":-0.065,"v":0.3},{"p":"d","s":"T","E":-0.058,"v":0.9},{"p":"d","s":"T","E":-0.05,"v":0.3},{"p":"d","s":"T","E":-0.043,"v":0},{"p":"d","s":"T","E":-0.038,"v":0.4},{"p":"d","s":"T","E":-0.032,"v":0.95},{"p":"d","s":"T","E":-0.025,"v":0.3},{"p":"d","s":"T","E":-0.018,"v":0},{"p":"d","s":"T","E":-0.012,"v":0.4},{"p":"d","s":"T","E":-0.006,"v":0.9},{"p":"d","s":"T","E":0,"v":1},
{"p":"d","s":"T","E":0.006,"v":0.9},{"p":"d","s":"T","E":0.012,"v":0.4},{"p":"d","s":"T","E":0.018,"v":0},{"p":"d","s":"T","E":0.025,"v":0.3},{"p":"d","s":"T","E":0.032,"v":0.95},{"p":"d","s":"T","E":0.038,"v":0.4},{"p":"d","s":"T","E":0.043,"v":0},{"p":"d","s":"T","E":0.05,"v":0.3},{"p":"d","s":"T","E":0.058,"v":0.9},{"p":"d","s":"T","E":0.065,"v":0.3},{"p":"d","s":"T","E":0.07,"v":0},{"p":"d","s":"T","E":0.078,"v":0.3},{"p":"d","s":"T","E":0.085,"v":0.97},{"p":"d","s":"T","E":0.095,"v":0.4},{"p":"d","s":"T","E":0.1,"v":0},{"p":"d","s":"T","E":0.105,"v":0.3},{"p":"d","s":"T","E":0.11,"v":0.95},{"p":"d","s":"T","E":0.115,"v":0.5},{"p":"d","s":"T","E":0.12,"v":0.25},{"p":"d","s":"T","E":0.33,"v":0.25},{"p":"d","s":"T","E":0.335,"v":0.3},{"p":"d","s":"T","E":0.345,"v":0.71},{"p":"d","s":"T","E":0.355,"v":0.4},{"p":"d","s":"T","E":0.365,"v":0.05},{"p":"d","s":"T","E":0.375,"v":0.2},{"p":"d","s":"T","E":0.385,"v":0.91},{"p":"d","s":"T","E":0.395,"v":0.3},{"p":"d","s":"T","E":0.41,"v":0.1},{"p":"d","s":"T","E":0.42,"v":0.5},{"p":"d","s":"T","E":0.435,"v":0.05},{"p":"d","s":"T","E":0.445,"v":0.3},{"p":"d","s":"T","E":0.455,"v":0},{"p":"d","s":"T","E":0.47,"v":0.1},{"p":"d","s":"T","E":0.49,"v":0.29},{"p":"d","s":"T","E":0.51,"v":0.5},{"p":"d","s":"T","E":0.53,"v":0.756},{"p":"d","s":"T","E":0.545,"v":0.93},{"p":"d","s":"T","E":0.56,"v":0.997},{"p":"d","s":"T","E":0.58,"v":0.95},{"p":"d","s":"T","E":0.617,"v":0.834},{"p":"d","s":"T","E":0.67,"v":0.647},{"p":"d","s":"T","E":0.72,"v":0.49},{"p":"d","s":"T","E":0.76,"v":0.39},{"p":"d","s":"T","E":0.8,"v":0.29},{"p":"d","s":"T","E":0.83,"v":0.21},{"p":"d","s":"T","E":0.87,"v":0.135},{"p":"d","s":"T","E":0.92,"v":0.06},{"p":"d","s":"T","E":0.96,"v":0.026},{"p":"d","s":"T","E":1,"v":0.01},{"p":"d","s":"T","E":1.07,"v":0.003},{"p":"d","s":"T","E":1.2,"v":0.012},{"p":"d","s":"T","E":1.32,"v":0.026},{"p":"d","s":"T","E":1.4,"v":0.038},{"p":"d","s":"T","E":1.48,"v":0.042},{"p":"d","s":"T","E":1.56,"v":0.035},{"p":"d","s":"T","E":1.65,"v":0.019},{"p":"d","s":"T","E":1.7,"v":0.01},{"p":"d","s":"T","E":1.755,"v":0.003},{"p":"d","s":"T","E":1.8,"v":0.003},{"p":"d","s":"T","E":1.845,"v":0.01},{"p":"d","s":"T","E":1.87,"v":0.03},{"p":"d","s":"T","E":1.9,"v":0.073},{"p":"d","s":"T","E":1.92,"v":0.15},{"p":"d","s":"T","E":1.935,"v":0.25},{"p":"d","s":"T","E":1.955,"v":0.4},{"p":"d","s":"T","E":1.97,"v":0.52},{"p":"d","s":"T","E":1.98,"v":0.6},{"p":"d","s":"T","E":1.99,"v":0.616},{"p":"d","s":"T","E":1.995,"v":0.45},{"p":"d","s":"T","E":2,"v":0.25},
{"p":"d","s":"B","E":-2,"v":0.25},{"p":"d","s":"B","E":-1.99,"v":0.45},{"p":"d","s":"B","E":-1.97,"v":0.6},{"p":"d","s":"B","E":-1.95,"v":0.7},{"p":"d","s":"B","E":-1.92,"v":0.787},{"p":"d","s":"B","E":-1.88,"v":0.86},{"p":"d","s":"B","E":-1.845,"v":0.91},{"p":"d","s":"B","E":-1.8,"v":0.955},{"p":"d","s":"B","E":-1.755,"v":0.98},{"p":"d","s":"B","E":-1.7,"v":0.965},{"p":"d","s":"B","E":-1.65,"v":0.94},{"p":"d","s":"B","E":-1.6,"v":0.922},{"p":"d","s":"B","E":-1.56,"v":0.916},{"p":"d","s":"B","E":-1.51,"v":0.925},{"p":"d","s":"B","E":-1.47,"v":0.94},{"p":"d","s":"B","E":-1.42,"v":0.958},{"p":"d","s":"B","E":-1.36,"v":0.97},{"p":"d","s":"B","E":-1.3,"v":0.962},{"p":"d","s":"B","E":-1.21,"v":0.955},{"p":"d","s":"B","E":-1.15,"v":0.97},{"p":"d","s":"B","E":-1.1,"v":0.99},{"p":"d","s":"B","E":-1.05,"v":0.997},{"p":"d","s":"B","E":-1,"v":0.975},{"p":"d","s":"B","E":-0.96,"v":0.94},{"p":"d","s":"B","E":-0.91,"v":0.89},{"p":"d","s":"B","E":-0.87,"v":0.85},{"p":"d","s":"B","E":-0.83,"v":0.8},{"p":"d","s":"B","E":-0.8,"v":0.756},{"p":"d","s":"B","E":-0.77,"v":0.66},{"p":"d","s":"B","E":-0.74,"v":0.554},{"p":"d","s":"B","E":-0.69,"v":0.4},{"p":"d","s":"B","E":-0.66,"v":0.3},{"p":"d","s":"B","E":-0.635,"v":0.197},{"p":"d","s":"B","E":-0.6,"v":0.09},{"p":"d","s":"B","E":-0.57,"v":0.02},{"p":"d","s":"B","E":-0.56,"v":0},{"p":"d","s":"B","E":-0.54,"v":0.1},{"p":"d","s":"B","E":-0.51,"v":0.29},{"p":"d","s":"B","E":-0.49,"v":0.5},{"p":"d","s":"B","E":-0.47,"v":0.68},{"p":"d","s":"B","E":-0.45,"v":0.966},{"p":"d","s":"B","E":-0.44,"v":0.6},{"p":"d","s":"B","E":-0.43,"v":0.1},{"p":"d","s":"B","E":-0.42,"v":0.2},{"p":"d","s":"B","E":-0.41,"v":0.9},{"p":"d","s":"B","E":-0.4,"v":0.4},{"p":"d","s":"B","E":-0.39,"v":0.05},{"p":"d","s":"B","E":-0.38,"v":0.4},{"p":"d","s":"B","E":-0.37,"v":0.83},{"p":"d","s":"B","E":-0.36,"v":0.3},{"p":"d","s":"B","E":-0.35,"v":0.05},{"p":"d","s":"B","E":-0.34,"v":0.2},{"p":"d","s":"B","E":-0.33,"v":0.25},{"p":"d","s":"B","E":-0.12,"v":0.25},{"p":"d","s":"B","E":-0.117,"v":0.7},{"p":"d","s":"B","E":-0.114,"v":0.98},{"p":"d","s":"B","E":-0.11,"v":0.2},{"p":"d","s":"B","E":-0.104,"v":0.7},{"p":"d","s":"B","E":-0.097,"v":1},{"p":"d","s":"B","E":-0.09,"v":0.3},{"p":"d","s":"B","E":-0.085,"v":0},{"p":"d","s":"B","E":-0.078,"v":0.5},{"p":"d","s":"B","E":-0.071,"v":0.97},{"p":"d","s":"B","E":-0.064,"v":0.3},{"p":"d","s":"B","E":-0.058,"v":0},{"p":"d","s":"B","E":-0.051,"v":0.5},{"p":"d","s":"B","E":-0.045,"v":1},{"p":"d","s":"B","E":-0.038,"v":0.3},{"p":"d","s":"B","E":-0.032,"v":0},{"p":"d","s":"B","E":-0.025,"v":0.5},{"p":"d","s":"B","E":-0.019,"v":0.95},{"p":"d","s":"B","E":-0.012,"v":0.3},{"p":"d","s":"B","E":-0.006,"v":0},{"p":"d","s":"B","E":0,"v":0},
{"p":"d","s":"B","E":0.006,"v":0},{"p":"d","s":"B","E":0.012,"v":0.3},{"p":"d","s":"B","E":0.019,"v":0.95},{"p":"d","s":"B","E":0.025,"v":0.5},{"p":"d","s":"B","E":0.032,"v":0},{"p":"d","s":"B","E":0.038,"v":0.3},{"p":"d","s":"B","E":0.045,"v":1},{"p":"d","s":"B","E":0.051,"v":0.5},{"p":"d","s":"B","E":0.058,"v":0},{"p":"d","s":"B","E":0.064,"v":0.3},{"p":"d","s":"B","E":0.071,"v":0.97},{"p":"d","s":"B","E":0.078,"v":0.5},{"p":"d","s":"B","E":0.085,"v":0},{"p":"d","s":"B","E":0.09,"v":0.3},{"p":"d","s":"B","E":0.097,"v":1},{"p":"d","s":"B","E":0.104,"v":0.7},{"p":"d","s":"B","E":0.11,"v":0.2},{"p":"d","s":"B","E":0.114,"v":0.98},{"p":"d","s":"B","E":0.117,"v":0.7},{"p":"d","s":"B","E":0.12,"v":0.25},{"p":"d","s":"B","E":0.33,"v":0.25},{"p":"d","s":"B","E":0.34,"v":0.2},{"p":"d","s":"B","E":0.35,"v":0.05},{"p":"d","s":"B","E":0.36,"v":0.3},{"p":"d","s":"B","E":0.37,"v":0.83},{"p":"d","s":"B","E":0.38,"v":0.4},{"p":"d","s":"B","E":0.39,"v":0.05},{"p":"d","s":"B","E":0.4,"v":0.4},{"p":"d","s":"B","E":0.41,"v":0.9},{"p":"d","s":"B","E":0.42,"v":0.2},{"p":"d","s":"B","E":0.43,"v":0.1},{"p":"d","s":"B","E":0.44,"v":0.6},{"p":"d","s":"B","E":0.45,"v":0.966},{"p":"d","s":"B","E":0.47,"v":0.68},{"p":"d","s":"B","E":0.49,"v":0.5},{"p":"d","s":"B","E":0.51,"v":0.29},{"p":"d","s":"B","E":0.54,"v":0.1},{"p":"d","s":"B","E":0.56,"v":0},{"p":"d","s":"B","E":0.57,"v":0.02},{"p":"d","s":"B","E":0.6,"v":0.09},{"p":"d","s":"B","E":0.635,"v":0.197},{"p":"d","s":"B","E":0.66,"v":0.3},{"p":"d","s":"B","E":0.69,"v":0.4},{"p":"d","s":"B","E":0.74,"v":0.554},{"p":"d","s":"B","E":0.77,"v":0.66},{"p":"d","s":"B","E":0.8,"v":0.756},{"p":"d","s":"B","E":0.83,"v":0.8},{"p":"d","s":"B","E":0.87,"v":0.85},{"p":"d","s":"B","E":0.91,"v":0.89},{"p":"d","s":"B","E":0.96,"v":0.94},{"p":"d","s":"B","E":1,"v":0.975},{"p":"d","s":"B","E":1.05,"v":0.997},{"p":"d","s":"B","E":1.1,"v":0.99},{"p":"d","s":"B","E":1.15,"v":0.97},{"p":"d","s":"B","E":1.21,"v":0.955},{"p":"d","s":"B","E":1.3,"v":0.962},{"p":"d","s":"B","E":1.36,"v":0.97},{"p":"d","s":"B","E":1.42,"v":0.958},{"p":"d","s":"B","E":1.47,"v":0.94},{"p":"d","s":"B","E":1.51,"v":0.925},{"p":"d","s":"B","E":1.56,"v":0.916},{"p":"d","s":"B","E":1.6,"v":0.922},{"p":"d","s":"B","E":1.65,"v":0.94},{"p":"d","s":"B","E":1.7,"v":0.965},{"p":"d","s":"B","E":1.755,"v":0.98},{"p":"d","s":"B","E":1.8,"v":0.955},{"p":"d","s":"B","E":1.845,"v":0.91},{"p":"d","s":"B","E":1.88,"v":0.86},{"p":"d","s":"B","E":1.92,"v":0.787},{"p":"d","s":"B","E":1.95,"v":0.7},{"p":"d","s":"B","E":1.97,"v":0.6},{"p":"d","s":"B","E":1.99,"v":0.45},{"p":"d","s":"B","E":2,"v":0.25},
{"p":"d","s":"R","E":-2,"v":0.25},{"p":"d","s":"R","E":-1.995,"v":0.12},{"p":"d","s":"R","E":-1.99,"v":0.042},{"p":"d","s":"R","E":-1.97,"v":0.01},{"p":"d","s":"R","E":-1.95,"v":0.04},{"p":"d","s":"R","E":-1.92,"v":0.073},{"p":"d","s":"R","E":-1.88,"v":0.055},{"p":"d","s":"R","E":-1.83,"v":0.026},{"p":"d","s":"R","E":-1.79,"v":0.008},{"p":"d","s":"R","E":-1.75,"v":0.003},{"p":"d","s":"R","E":-1.7,"v":0.012},{"p":"d","s":"R","E":-1.65,"v":0.026},{"p":"d","s":"R","E":-1.6,"v":0.018},{"p":"d","s":"R","E":-1.54,"v":0.01},{"p":"d","s":"R","E":-1.49,"v":0.015},{"p":"d","s":"R","E":-1.43,"v":0.026},{"p":"d","s":"R","E":-1.36,"v":0.018},{"p":"d","s":"R","E":-1.29,"v":0.008},{"p":"d","s":"R","E":-1.21,"v":0.012},{"p":"d","s":"R","E":-1.14,"v":0.019},{"p":"d","s":"R","E":-1.08,"v":0.01},{"p":"d","s":"R","E":-1.03,"v":0.003},{"p":"d","s":"R","E":-0.96,"v":0.012},{"p":"d","s":"R","E":-0.89,"v":0.023},{"p":"d","s":"R","E":-0.82,"v":0.015},{"p":"d","s":"R","E":-0.78,"v":0.012},{"p":"d","s":"R","E":-0.74,"v":0.026},{"p":"d","s":"R","E":-0.69,"v":0.045},{"p":"d","s":"R","E":-0.64,"v":0.05},{"p":"d","s":"R","E":-0.6,"v":0.02},{"p":"d","s":"R","E":-0.56,"v":0},{"p":"d","s":"R","E":-0.52,"v":0.04},{"p":"d","s":"R","E":-0.49,"v":0.073},{"p":"d","s":"R","E":-0.47,"v":0.03},{"p":"d","s":"R","E":-0.45,"v":0},{"p":"d","s":"R","E":-0.44,"v":0.08},{"p":"d","s":"R","E":-0.43,"v":0.15},{"p":"d","s":"R","E":-0.42,"v":0.05},{"p":"d","s":"R","E":-0.41,"v":0},{"p":"d","s":"R","E":-0.4,"v":0.18},{"p":"d","s":"R","E":-0.39,"v":0.1},{"p":"d","s":"R","E":-0.385,"v":0},{"p":"d","s":"R","E":-0.37,"v":0.12},{"p":"d","s":"R","E":-0.36,"v":0.2},{"p":"d","s":"R","E":-0.35,"v":0.05},{"p":"d","s":"R","E":-0.34,"v":0.22},{"p":"d","s":"R","E":-0.33,"v":0.25},{"p":"d","s":"R","E":-0.12,"v":0.25},{"p":"d","s":"R","E":-0.115,"v":0.1},{"p":"d","s":"R","E":-0.11,"v":0},{"p":"d","s":"R","E":-0.105,"v":0.15},{"p":"d","s":"R","E":-0.1,"v":0.2},{"p":"d","s":"R","E":-0.09,"v":0.05},{"p":"d","s":"R","E":-0.085,"v":0},{"p":"d","s":"R","E":-0.078,"v":0.15},{"p":"d","s":"R","E":-0.07,"v":0.05},{"p":"d","s":"R","E":-0.064,"v":0.18},{"p":"d","s":"R","E":-0.058,"v":0},{"p":"d","s":"R","E":-0.05,"v":0.12},{"p":"d","s":"R","E":-0.043,"v":0.05},{"p":"d","s":"R","E":-0.038,"v":0.15},{"p":"d","s":"R","E":-0.032,"v":0},{"p":"d","s":"R","E":-0.025,"v":0.12},{"p":"d","s":"R","E":-0.018,"v":0.05},{"p":"d","s":"R","E":-0.012,"v":0.1},{"p":"d","s":"R","E":-0.006,"v":0},{"p":"d","s":"R","E":0,"v":0},
{"p":"d","s":"R","E":0.006,"v":0},{"p":"d","s":"R","E":0.012,"v":0.1},{"p":"d","s":"R","E":0.018,"v":0.05},{"p":"d","s":"R","E":0.025,"v":0.12},{"p":"d","s":"R","E":0.032,"v":0},{"p":"d","s":"R","E":0.038,"v":0.15},{"p":"d","s":"R","E":0.043,"v":0.05},{"p":"d","s":"R","E":0.05,"v":0.12},{"p":"d","s":"R","E":0.058,"v":0},{"p":"d","s":"R","E":0.064,"v":0.18},{"p":"d","s":"R","E":0.07,"v":0.05},{"p":"d","s":"R","E":0.078,"v":0.15},{"p":"d","s":"R","E":0.085,"v":0},{"p":"d","s":"R","E":0.09,"v":0.05},{"p":"d","s":"R","E":0.1,"v":0.2},{"p":"d","s":"R","E":0.105,"v":0.15},{"p":"d","s":"R","E":0.11,"v":0},{"p":"d","s":"R","E":0.115,"v":0.1},{"p":"d","s":"R","E":0.12,"v":0.25},{"p":"d","s":"R","E":0.33,"v":0.25},{"p":"d","s":"R","E":0.34,"v":0.22},{"p":"d","s":"R","E":0.35,"v":0.05},{"p":"d","s":"R","E":0.36,"v":0.2},{"p":"d","s":"R","E":0.37,"v":0.12},{"p":"d","s":"R","E":0.385,"v":0},{"p":"d","s":"R","E":0.39,"v":0.1},{"p":"d","s":"R","E":0.4,"v":0.18},{"p":"d","s":"R","E":0.41,"v":0},{"p":"d","s":"R","E":0.42,"v":0.05},{"p":"d","s":"R","E":0.43,"v":0.15},{"p":"d","s":"R","E":0.44,"v":0.08},{"p":"d","s":"R","E":0.45,"v":0},{"p":"d","s":"R","E":0.47,"v":0.03},{"p":"d","s":"R","E":0.49,"v":0.073},{"p":"d","s":"R","E":0.52,"v":0.04},{"p":"d","s":"R","E":0.56,"v":0},{"p":"d","s":"R","E":0.6,"v":0.02},{"p":"d","s":"R","E":0.64,"v":0.05},{"p":"d","s":"R","E":0.69,"v":0.045},{"p":"d","s":"R","E":0.74,"v":0.026},{"p":"d","s":"R","E":0.78,"v":0.012},{"p":"d","s":"R","E":0.82,"v":0.015},{"p":"d","s":"R","E":0.89,"v":0.023},{"p":"d","s":"R","E":0.96,"v":0.012},{"p":"d","s":"R","E":1.03,"v":0.003},{"p":"d","s":"R","E":1.08,"v":0.01},{"p":"d","s":"R","E":1.14,"v":0.019},{"p":"d","s":"R","E":1.21,"v":0.012},{"p":"d","s":"R","E":1.29,"v":0.008},{"p":"d","s":"R","E":1.36,"v":0.018},{"p":"d","s":"R","E":1.43,"v":0.026},{"p":"d","s":"R","E":1.49,"v":0.015},{"p":"d","s":"R","E":1.54,"v":0.01},{"p":"d","s":"R","E":1.6,"v":0.018},{"p":"d","s":"R","E":1.65,"v":0.026},{"p":"d","s":"R","E":1.7,"v":0.012},{"p":"d","s":"R","E":1.75,"v":0.003},{"p":"d","s":"R","E":1.79,"v":0.008},{"p":"d","s":"R","E":1.83,"v":0.026},{"p":"d","s":"R","E":1.88,"v":0.055},{"p":"d","s":"R","E":1.92,"v":0.073},{"p":"d","s":"R","E":1.95,"v":0.04},{"p":"d","s":"R","E":1.97,"v":0.01},{"p":"d","s":"R","E":1.99,"v":0.042},{"p":"d","s":"R","E":1.995,"v":0.12},{"p":"d","s":"R","E":2,"v":0.25}
]},
"concat":[
{"width":388,"height":238,
"layer":[
{"data":{"name":"curves"},"transform":[{"filter":"datum.p=='a' && datum.s=='T'"}],"mark":{"type":"line","color":"black","strokeWidth":1.6,"clip":true},
"encoding":{"x":{"field":"E","type":"quantitative","scale":{"domain":[-2.1,2.09],"nice":false,"zero":false},"axis":{"orient":"bottom","values":[-2,-1,0,1,2],"tickSize":-6,"labels":false,"title":null}},
"y":{"field":"v","type":"quantitative","scale":{"domain":[-0.04,1.044],"nice":false,"zero":false},"axis":{"orient":"left","values":[0,0.5,1],"tickSize":-6,"format":"~g","title":null}}}},
{"data":{"name":"curves"},"transform":[{"filter":"datum.p=='a' && datum.s=='B'"}],"mark":{"type":"line","color":"#0000ff","strokeWidth":1.6,"strokeDash":[7,4],"clip":true},
"encoding":{"x":{"field":"E","type":"quantitative","axis":{"orient":"bottom","values":[-1.8,-1.6,-1.4,-1.2,-0.8,-0.6,-0.4,-0.2,0.2,0.4,0.6,0.8,1.2,1.4,1.6,1.8],"tickSize":-3.5,"labels":false,"title":null}},
"y":{"field":"v","type":"quantitative","axis":{"orient":"right","values":[0,0.5,1],"tickSize":-6,"labels":false,"title":null}}}},
{"data":{"name":"curves"},"transform":[{"filter":"datum.p=='a' && datum.s=='R'"}],"mark":{"type":"line","color":"#ff0000","strokeWidth":2,"strokeDash":[6,2,2,2],"clip":true},
"encoding":{"x":{"field":"E","type":"quantitative","axis":{"orient":"top","values":[-2,-1,0,1,2],"tickSize":-6,"labels":false,"title":null}},
"y":{"field":"v","type":"quantitative","axis":null}}},
{"data":{"name":"curves"},"transform":[{"filter":"datum.p=='a' && datum.s=='R'"}],"mark":{"type":"line","color":"#00ee00","strokeWidth":2,"strokeDash":[2,2.5],"clip":true},
"encoding":{"x":{"field":"E","type":"quantitative","axis":{"orient":"top","values":[-1.8,-1.6,-1.4,-1.2,-0.8,-0.6,-0.4,-0.2,0.2,0.4,0.6,0.8,1.2,1.4,1.6,1.8],"tickSize":-3.5,"labels":false,"title":null}},
"y":{"field":"v","type":"quantitative","axis":null}}},
{"data":{"values":[{"s":"T","E1":-1.604,"E2":-1.305,"v":0.765},{"s":"B","E1":-1.604,"E2":-1.305,"v":0.582},{"s":"R","E1":-1.604,"E2":-1.305,"v":0.416},{"s":"G","E1":-1.604,"E2":-1.305,"v":0.238}]},
"mark":{"type":"rule","strokeWidth":1.8},
"encoding":{"x":{"field":"E1","type":"quantitative","axis":null},"x2":{"field":"E2"},"y":{"field":"v","type":"quantitative","axis":null},
"color":{"field":"s","type":"nominal","scale":{"domain":["T","B","R","G"],"range":["black","#0000ff","#ff0000","#00ee00"]},"legend":null},
"strokeDash":{"field":"s","type":"nominal","scale":{"domain":["T","B","R","G"],"range":[[1,0],[7,4],[6,2,2,2],[2,2.5]]},"legend":null}}},
{"data":{"values":[{"E":-1.191,"v":0.723,"t":"T"},{"E":-1.191,"v":0.556,"t":"T"},{"E":-1.191,"v":0.389,"t":"R"},{"E":-1.191,"v":0.215,"t":"T"}]},
"mark":{"type":"text","align":"left","baseline":"alphabetic","fontSize":18,"fontStyle":"italic","font":"Liberation Serif, Times New Roman, DejaVu Serif, serif","color":"black"},
"encoding":{"x":{"field":"E","type":"quantitative","axis":null},"y":{"field":"v","type":"quantitative","axis":null},"text":{"field":"t"}}},
{"data":{"values":[{"E":-1.062,"v":0.712,"t":"a"},{"E":-1.083,"v":0.612,"t":"b"},{"E":-1.046,"v":0.38,"t":"a"},{"E":-1.083,"v":0.272,"t":"b"}]},
"mark":{"type":"text","align":"left","baseline":"alphabetic","fontSize":13,"fontStyle":"italic","font":"Liberation Serif, Times New Roman, DejaVu Serif, serif","color":"black"},
"encoding":{"x":{"field":"E","type":"quantitative","axis":null},"y":{"field":"v","type":"quantitative","axis":null},"text":{"field":"t"}}},
{"data":{"values":[{"E":-1.083,"v":0.527,"t":"→"},{"E":-1.083,"v":0.177,"t":"←"}]},
"mark":{"type":"text","align":"left","baseline":"alphabetic","fontSize":12,"font":"DejaVu Serif, serif","color":"black"},
"encoding":{"x":{"field":"E","type":"quantitative","axis":null},"y":{"field":"v","type":"quantitative","axis":null},"text":{"field":"t"}}},
{"data":{"values":[{"E":-1.99,"v":0.927,"t":"(a)"}]},
"mark":{"type":"text","align":"left","baseline":"alphabetic","fontSize":24,"font":"Liberation Serif, Times New Roman, DejaVu Serif, serif","color":"black"},
"encoding":{"x":{"field":"E","type":"quantitative","axis":null},"y":{"field":"v","type":"quantitative","axis":null},"text":{"field":"t"}}},
{"data":{"values":[{"E":1.826,"v":0.456,"t":"N=2"}]},
"mark":{"type":"text","align":"right","baseline":"alphabetic","fontSize":27,"font":"Liberation Serif, Times New Roman, DejaVu Serif, serif","color":"black"},
"encoding":{"x":{"field":"E","type":"quantitative","axis":null},"y":{"field":"v","type":"quantitative","axis":null},"text":{"field":"t"}}}
],
"resolve":{"axis":{"x":"independent","y":"independent"}}},
{"width":387,"height":238,
"layer":[
{"data":{"name":"curves"},"transform":[{"filter":"datum.p=='b' && datum.s=='T'"}],"mark":{"type":"line","color":"black","strokeWidth":1.6,"clip":true},
"encoding":{"x":{"field":"E","type":"quantitative","scale":{"domain":[-2.1,2.09],"nice":false,"zero":false},"axis":{"orient":"bottom","values":[-2,-1,0,1,2],"tickSize":-6,"labels":false,"title":null}},
"y":{"field":"v","type":"quantitative","scale":{"domain":[-0.04,1.044],"nice":false,"zero":false},"axis":{"orient":"left","values":[0,0.5,1],"tickSize":-6,"labels":false,"title":null}}}},
{"data":{"name":"curves"},"transform":[{"filter":"datum.p=='b' && datum.s=='B'"}],"mark":{"type":"line","color":"#0000ff","strokeWidth":1.6,"strokeDash":[7,4],"clip":true},
"encoding":{"x":{"field":"E","type":"quantitative","axis":{"orient":"bottom","values":[-1.8,-1.6,-1.4,-1.2,-0.8,-0.6,-0.4,-0.2,0.2,0.4,0.6,0.8,1.2,1.4,1.6,1.8],"tickSize":-3.5,"labels":false,"title":null}},
"y":{"field":"v","type":"quantitative","axis":{"orient":"right","values":[0,0.5,1],"tickSize":-6,"labels":false,"title":null}}}},
{"data":{"name":"curves"},"transform":[{"filter":"datum.p=='b' && datum.s=='R'"}],"mark":{"type":"line","color":"#ff0000","strokeWidth":2,"strokeDash":[6,2,2,2],"clip":true},
"encoding":{"x":{"field":"E","type":"quantitative","axis":{"orient":"top","values":[-2,-1,0,1,2],"tickSize":-6,"labels":false,"title":null}},
"y":{"field":"v","type":"quantitative","axis":null}}},
{"data":{"name":"curves"},"transform":[{"filter":"datum.p=='b' && datum.s=='R'"}],"mark":{"type":"line","color":"#00ee00","strokeWidth":2,"strokeDash":[2,2.5],"clip":true},
"encoding":{"x":{"field":"E","type":"quantitative","axis":{"orient":"top","values":[-1.8,-1.6,-1.4,-1.2,-0.8,-0.6,-0.4,-0.2,0.2,0.4,0.6,0.8,1.2,1.4,1.6,1.8],"tickSize":-3.5,"labels":false,"title":null}},
"y":{"field":"v","type":"quantitative","axis":null}}},
{"data":{"values":[{"E":-1.99,"v":0.927,"t":"(b)"}]},
"mark":{"type":"text","align":"left","baseline":"alphabetic","fontSize":24,"font":"Liberation Serif, Times New Roman, DejaVu Serif, serif","color":"black"},
"encoding":{"x":{"field":"E","type":"quantitative","axis":null},"y":{"field":"v","type":"quantitative","axis":null},"text":{"field":"t"}}},
{"data":{"values":[{"E":1.839,"v":0.45,"t":"N=5"}]},
"mark":{"type":"text","align":"right","baseline":"alphabetic","fontSize":27,"font":"Liberation Serif, Times New Roman, DejaVu Serif, serif","color":"black"},
"encoding":{"x":{"field":"E","type":"quantitative","axis":null},"y":{"field":"v","type":"quantitative","axis":null},"text":{"field":"t"}}}
],
"resolve":{"axis":{"x":"independent","y":"independent"}}},
{"width":388,"height":239,
"layer":[
{"data":{"name":"curves"},"transform":[{"filter":"datum.p=='c' && datum.s=='T'"}],"mark":{"type":"line","color":"black","strokeWidth":1.6,"clip":true},
"encoding":{"x":{"field":"E","type":"quantitative","scale":{"domain":[-2.1,2.09],"nice":false,"zero":false},"axis":{"orient":"bottom","values":[-2,-1,0,1,2],"tickSize":-6,"title":"E (units of ξ)"}},
"y":{"field":"v","type":"quantitative","scale":{"domain":[-0.05,1.038],"nice":false,"zero":false},"axis":{"orient":"left","values":[0,0.5,1],"tickSize":-6,"format":"~g","title":null}}}},
{"data":{"name":"curves"},"transform":[{"filter":"datum.p=='c' && datum.s=='B'"}],"mark":{"type":"line","color":"#0000ff","strokeWidth":1.6,"strokeDash":[7,4],"clip":true},
"encoding":{"x":{"field":"E","type":"quantitative","axis":{"orient":"bottom","values":[-1.8,-1.6,-1.4,-1.2,-0.8,-0.6,-0.4,-0.2,0.2,0.4,0.6,0.8,1.2,1.4,1.6,1.8],"tickSize":-3.5,"labels":false,"title":null}},
"y":{"field":"v","type":"quantitative","axis":{"orient":"right","values":[0,0.5,1],"tickSize":-6,"labels":false,"title":null}}}},
{"data":{"name":"curves"},"transform":[{"filter":"datum.p=='c' && datum.s=='R'"}],"mark":{"type":"line","color":"#ff0000","strokeWidth":2,"strokeDash":[6,2,2,2],"clip":true},
"encoding":{"x":{"field":"E","type":"quantitative","axis":{"orient":"top","values":[-2,-1,0,1,2],"tickSize":-6,"labels":false,"title":null}},
"y":{"field":"v","type":"quantitative","axis":null}}},
{"data":{"name":"curves"},"transform":[{"filter":"datum.p=='c' && datum.s=='R'"}],"mark":{"type":"line","color":"#00ee00","strokeWidth":2,"strokeDash":[2,2.5],"clip":true},
"encoding":{"x":{"field":"E","type":"quantitative","axis":{"orient":"top","values":[-1.8,-1.6,-1.4,-1.2,-0.8,-0.6,-0.4,-0.2,0.2,0.4,0.6,0.8,1.2,1.4,1.6,1.8],"tickSize":-3.5,"labels":false,"title":null}},
"y":{"field":"v","type":"quantitative","axis":null}}},
{"data":{"values":[{"E":-1.99,"v":0.915,"t":"(c)"}]},
"mark":{"type":"text","align":"left","baseline":"alphabetic","fontSize":24,"font":"Liberation Serif, Times New Roman, DejaVu Serif, serif","color":"black"},
"encoding":{"x":{"field":"E","type":"quantitative","axis":null},"y":{"field":"v","type":"quantitative","axis":null},"text":{"field":"t"}}},
{"data":{"values":[{"E":1.837,"v":0.458,"t":"N=9"}]},
"mark":{"type":"text","align":"right","baseline":"alphabetic","fontSize":27,"font":"Liberation Serif, Times New Roman, DejaVu Serif, serif","color":"black"},
"encoding":{"x":{"field":"E","type":"quantitative","axis":null},"y":{"field":"v","type":"quantitative","axis":null},"text":{"field":"t"}}}
],
"resolve":{"axis":{"x":"independent","y":"independent"}}},
{"width":387,"height":239,
"layer":[
{"data":{"name":"curves"},"transform":[{"filter":"datum.p=='d' && datum.s=='T'"}],"mark":{"type":"line","color":"black","strokeWidth":1.6,"clip":true},
"encoding":{"x":{"field":"E","type":"quantitative","scale":{"domain":[-2.1,2.09],"nice":false,"zero":false},"axis":{"orient":"bottom","values":[-2,-1,0,1,2],"tickSize":-6,"title":"E (units of ξ)"}},
"y":{"field":"v","type":"quantitative","scale":{"domain":[-0.059,1.056],"nice":false,"zero":false},"axis":{"orient":"left","values":[0,0.5,1],"tickSize":-6,"labels":false,"title":null}}}},
{"data":{"name":"curves"},"transform":[{"filter":"datum.p=='d' && datum.s=='B'"}],"mark":{"type":"line","color":"#0000ff","strokeWidth":1.6,"strokeDash":[7,4],"clip":true},
"encoding":{"x":{"field":"E","type":"quantitative","axis":{"orient":"bottom","values":[-1.8,-1.6,-1.4,-1.2,-0.8,-0.6,-0.4,-0.2,0.2,0.4,0.6,0.8,1.2,1.4,1.6,1.8],"tickSize":-3.5,"labels":false,"title":null}},
"y":{"field":"v","type":"quantitative","axis":{"orient":"right","values":[0,0.5,1],"tickSize":-6,"labels":false,"title":null}}}},
{"data":{"name":"curves"},"transform":[{"filter":"datum.p=='d' && datum.s=='R'"}],"mark":{"type":"line","color":"#ff0000","strokeWidth":2,"strokeDash":[6,2,2,2],"clip":true},
"encoding":{"x":{"field":"E","type":"quantitative","axis":{"orient":"top","values":[-2,-1,0,1,2],"tickSize":-6,"labels":false,"title":null}},
"y":{"field":"v","type":"quantitative","axis":null}}},
{"data":{"name":"curves"},"transform":[{"filter":"datum.p=='d' && datum.s=='R'"}],"mark":{"type":"line","color":"#00ee00","strokeWidth":2,"strokeDash":[2,2.5],"clip":true},
"encoding":{"x":{"field":"E","type":"quantitative","axis":{"orient":"top","values":[-1.8,-1.6,-1.4,-1.2,-0.8,-0.6,-0.4,-0.2,0.2,0.4,0.6,0.8,1.2,1.4,1.6,1.8],"tickSize":-3.5,"labels":false,"title":null}},
"y":{"field":"v","type":"quantitative","axis":null}}},
{"data":{"values":[{"E":-2.06,"v":0.92,"t":"(d)"}]},
"mark":{"type":"text","align":"left","baseline":"alphabetic","fontSize":24,"font":"Liberation Serif, Times New Roman, DejaVu Serif, serif","color":"black"},
"encoding":{"x":{"field":"E","type":"quantitative","axis":null},"y":{"field":"v","type":"quantitative","axis":null},"text":{"field":"t"}}},
{"data":{"values":[{"E":1.915,"v":0.46,"t":"N=12"}]},
"mark":{"type":"text","align":"right","baseline":"alphabetic","fontSize":27,"font":"Liberation Serif, Times New Roman, DejaVu Serif, serif","color":"black"},
"encoding":{"x":{"field":"E","type":"quantitative","axis":null},"y":{"field":"v","type":"quantitative","axis":null},"text":{"field":"t"}}}
],
"resolve":{"axis":{"x":"independent","y":"independent"}}}
]
}
